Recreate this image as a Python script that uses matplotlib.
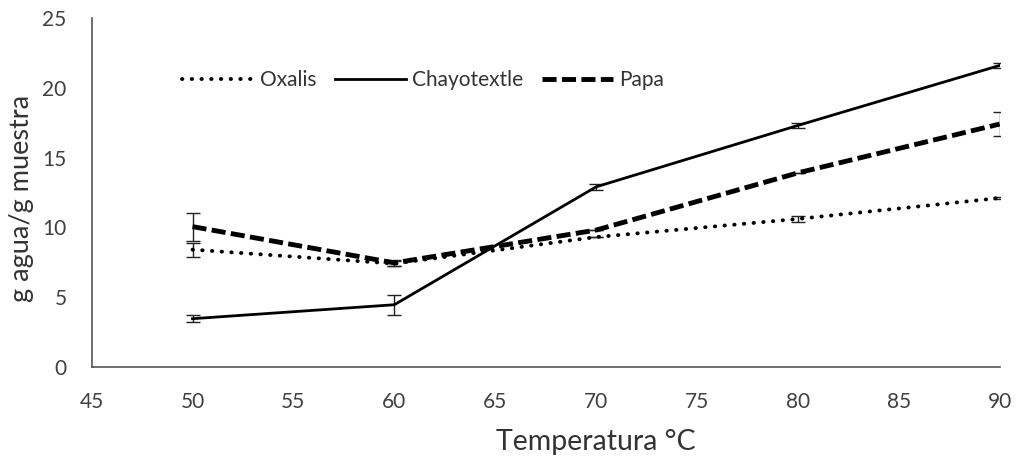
import matplotlib
matplotlib.use("Agg")
import matplotlib.pyplot as plt

plt.rcParams["font.family"] = ["Lato", "DejaVu Sans"]

temps = [50, 60, 70, 80, 90]

oxalis = [8.4, 7.4, 9.3, 10.6, 12.1]
oxalis_err = [0.5, 0.2, 0.0, 0.2, 0.1]

chayotextle = [3.45, 4.45, 12.9, 17.3, 21.6]
chayotextle_err = [0.25, 0.7, 0.2, 0.15, 0.2]

papa = [10.05, 7.45, 9.8, 13.9, 17.4]
papa_err = [1.0, 0.2, 0.0, 0.0, 0.85]

fig = plt.figure(figsize=(10.18, 4.62), dpi=100)
ax = fig.add_axes([0.090, 0.206, 0.892, 0.755])

ebk = dict(ecolor="#222222", elinewidth=1.0, capsize=4.8, capthick=1.0)
ax.errorbar(temps, oxalis, yerr=oxalis_err, color="black", lw=2.8,
            linestyle=(0, (0.1, 2.4)), dash_capstyle="round", label="Oxalis", **ebk)
ax.errorbar(temps, chayotextle, yerr=chayotextle_err, color="black", lw=2.0,
            linestyle="-", label="Chayotextle", **ebk)
ax.errorbar(temps, papa, yerr=papa_err, color="black", lw=3.5,
            linestyle=(0, (2.9, 1.1)), label="Papa", **ebk)

ax.set_xlim(45, 90)
ax.set_ylim(0, 25)
ax.set_xticks(range(45, 91, 5))
ax.set_yticks(range(0, 26, 5))
ax.tick_params(length=0, labelsize=15, colors="#404040", pad=18)
for side in ("top", "right"):
    ax.spines[side].set_visible(False)
for side in ("left", "bottom"):
    ax.spines[side].set_color("#555555")
    ax.spines[side].set_linewidth(1.2)

ax.set_xlabel("Temperatura °C", fontsize=20.5, color="#333333")
ax.xaxis.set_label_coords(0.555, -0.178)
ax.set_ylabel("g agua/g muestra", fontsize=19.5, color="#333333")
ax.yaxis.set_label_coords(-0.064, 0.484)

handles, labels = ax.get_legend_handles_labels()
handles = [h[0] for h in handles]
ax.legend(handles, labels, loc="center left", bbox_to_anchor=(0.100, 0.822),
          ncol=3, frameon=False, fontsize=15, handlelength=3.4,
          handletextpad=0.3, columnspacing=0.9, borderpad=0, borderaxespad=0,
          labelcolor="#333333")

fig.savefig("out.png", dpi=100)
